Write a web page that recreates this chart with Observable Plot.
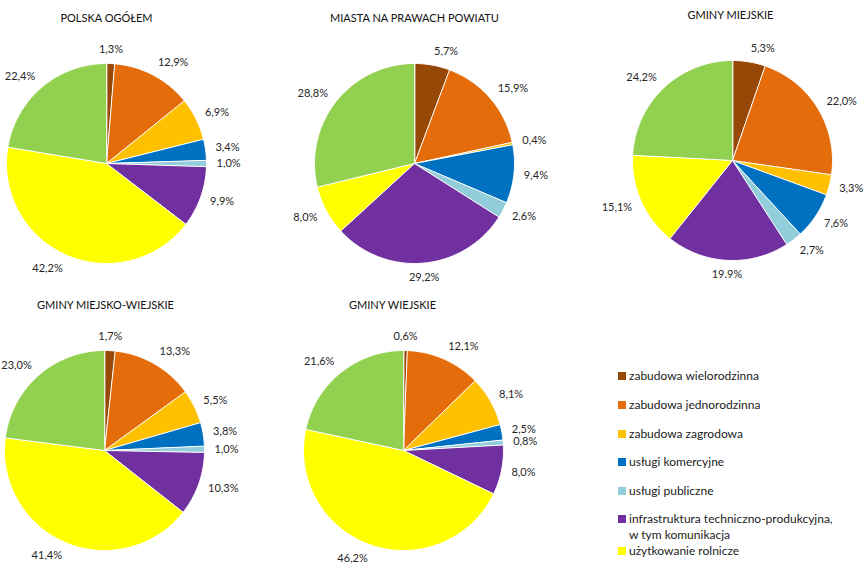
<!DOCTYPE html>
<html><head><meta charset="utf-8">
<script src="https://cdn.jsdelivr.net/npm/d3@7"></script>
<script src="https://cdn.jsdelivr.net/npm/@observablehq/plot@0.6"></script>
<style>
body{margin:0;width:865px;height:572px;position:relative;overflow:hidden;background:#fff;font-family:Lato,"Open Sans",sans-serif}
.pie{position:absolute;width:310px;height:290px}
.leg{position:absolute;left:618px;font-size:12px;color:#222;line-height:18px;padding-left:11px;width:240px}
.leg span.sw{position:absolute;left:0;top:5px;width:8px;height:8px}
</style></head><body>
<script>
// ---- data ----
const categories = ["zabudowa wielorodzinna","zabudowa jednorodzinna","zabudowa zagrodowa","usługi komercyjne","usługi publiczne","infrastruktura techniczno-produkcyjna, w tym komunikacja","użytkowanie rolnicze","inne"];
const legendLabels = ["zabudowa wielorodzinna","zabudowa jednorodzinna","zabudowa zagrodowa","usługi komercyjne","usługi publiczne","infrastruktura techniczno-produkcyjna,<br>w tym komunikacja","użytkowanie rolnicze"];
const colors = ["#974706","#E46C0A","#FFC000","#0070C0","#92CDDC","#7030A0","#FFFF00","#92D050"];
const titles = ["POLSKA OGÓŁEM","MIASTA NA PRAWACH POWIATU","GMINY MIEJSKIE","GMINY MIEJSKO-WIEJSKIE","GMINY WIEJSKIE"];
const polska        = [1.3,12.9,6.9,3.4,1.0,9.9,42.2,22.4];
const miasta        = [5.7,15.9,0.4,9.4,2.6,29.2,8.0,28.8];
const gminyMiejskie = [5.3,22.0,3.3,7.6,2.7,19.9,15.1,24.2];
const gminyMW       = [1.7,13.3,5.5,3.8,1.0,10.3,41.4,23.0];
const gminyW        = [0.6,12.1,8.1,2.5,0.8,8.0,46.2,21.6];
const gminyMiejskieLabels = ["5,3%","22,0%","3,3%","7,6%","2,7%","19.9%","15,1%","24,2%"];

// ---- layout ----
const layout = [
  {values: polska, labels: null, left: -49.5, top: 2.5, titleDx: 0},
  {values: miasta, labels: null, left: 259, top: 3, titleDx: 0},
  {values: gminyMiejskie, labels: gminyMiejskieLabels, left: 576.5, top: 0, titleDx: -0.02},
  {values: gminyMW, labels: null, left: -51, top: 290, titleDx: 0.01},
  {values: gminyW, labels: null, left: 248, top: 290, titleDx: -0.11}
];

const fmt = v => v.toFixed(1).replace(".", ",") + "%";

layout.forEach((p, pi) => {
  const arcs = d3.pie().sort(null).value(d => d)(p.values);
  const wedge = [];
  const labs = [];
  arcs.forEach((a, i) => {
    const cat = categories[i];
    const n = Math.max(2, Math.ceil((a.endAngle - a.startAngle) / (Math.PI / 180)));
    wedge.push({cat, x: 0, y: 0});
    for (let k = 0; k <= n; k++) {
      const t = a.startAngle + (a.endAngle - a.startAngle) * k / n;
      wedge.push({cat, x: Math.sin(t), y: Math.cos(t)});
    }
    const m = (a.startAngle + a.endAngle) / 2;
    const s = Math.sin(m);
    labs.push({
      x: 1.1 * s, y: 1.14 * Math.cos(m),
      text: p.labels ? p.labels[i] : fmt(p.values[i]),
      anchor: s > 0.15 ? "start" : s < -0.15 ? "end" : "middle"
    });
  });
  const textOpts = a => ({x: "x", y: "y", text: "text", textAnchor: a, fill: "#262626", fontSize: 11, lineAnchor: "middle"});
  const chart = Plot.plot({
    width: 310, height: 290, margin: 0,
    x: {domain: [-1.55, 1.55], range: [0, 310], axis: null},
    y: {domain: [-1.3, 1.6], range: [290, 0], axis: null},
    color: {domain: categories, range: colors},
    style: {background: "transparent", overflow: "visible", fontFamily: "Lato, 'Open Sans', sans-serif"},
    marks: [
      Plot.line(wedge, {x: "x", y: "y", z: "cat", fill: "cat", stroke: "white", strokeWidth: 1, curve: "linear-closed", strokeLinejoin: "round"}),
      Plot.text(labs.filter(d => d.anchor === "start"), textOpts("start")),
      Plot.text(labs.filter(d => d.anchor === "end"), textOpts("end")),
      Plot.text(labs.filter(d => d.anchor === "middle"), textOpts("middle")),
      Plot.text([titles[pi]], {x: p.titleDx, y: 1.45, text: d => d, fontSize: 11, fill: "#111", textAnchor: "middle", lineAnchor: "middle"})
    ]
  });
  const div = document.createElement("div");
  div.className = "pie";
  div.style.left = p.left + "px";
  div.style.top = p.top + "px";
  div.appendChild(chart);
  document.body.appendChild(div);
});

// ---- legend ----
const legendTops = [367, 395.75, 424.5, 453.25, 482, 511, 542];
const legendLineHeights = [18, 18, 18, 18, 18, 16, 18];
legendLabels.forEach((lab, i) => {
  const d = document.createElement("div");
  d.className = "leg";
  d.style.top = legendTops[i] + "px";
  d.style.lineHeight = legendLineHeights[i] + "px";
  d.innerHTML = `<span class="sw" style="background:${colors[i]};top:${(legendLineHeights[i] - 8) / 2}px"></span>${lab}`;
  document.body.appendChild(d);
});
</script>
</body></html>
